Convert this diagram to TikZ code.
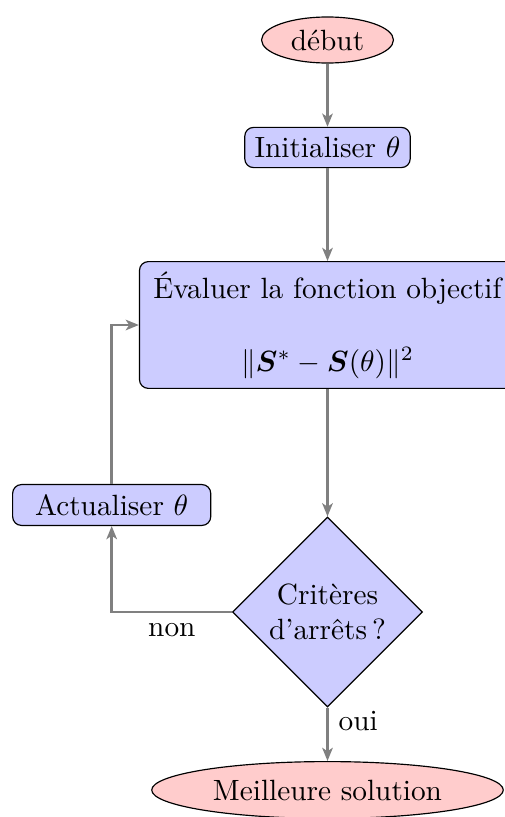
\documentclass[tikz,border=0pt]{standalone}
\usepackage{amsmath,bm}
\usetikzlibrary{shapes.geometric,arrows.meta}
\begin{document}
\begin{tikzpicture}[x=0.3412pt,y=-0.3412pt,
  startstop/.style={ellipse, draw=black, fill=red!20, thin},
  procbox/.style={rectangle, rounded corners=3pt, draw=black, fill=blue!20, align=center},
  decide/.style={diamond, draw=black, fill=blue!20, align=center, inner sep=0pt, minimum width=64.8pt, minimum height=64.8pt},
  flow/.style={draw=gray, line width=1pt, -{Stealth[length=4.5pt,width=3.6pt,inset=1.2pt]}}]
\useasboundingbox (0,0) rectangle (505,817);
\clip (0,0) rectangle (505,817);
\node[startstop, minimum width=45pt, minimum height=15.7pt, inner sep=0pt] (debut) at (327.5,40) {début};
\node[procbox] (init) at (327.5,147.5) {Initialiser $\theta$};
\node[procbox, minimum width=128.3pt] (eval) at (327.5,325) {Évaluer la fonction objectif\\[13pt] $\|\bm{S}^{*}-\bm{S}(\theta)\|^{2}$};
\node[decide] (crit) at (327.5,612) {Critères\\d’arrêts\,?};
\node[startstop] (best) at (327.5,790) {Meilleure solution};
\node[procbox, minimum width=67.6pt] (act) at (111.7,505) {Actualiser $\theta$};
\draw[flow] (debut) -- (init);
\draw[flow] (init) -- (eval);
\draw[flow] (eval) -- (crit);
\draw[flow] (crit) -- node[right, pos=0.25, text=black]{oui} (best);
\draw[flow] (crit.west) -| node[below, pos=0.25, text=black]{non} (act.south);
\draw[flow] (act.north) |- (eval.west);
\end{tikzpicture}
\end{document}
